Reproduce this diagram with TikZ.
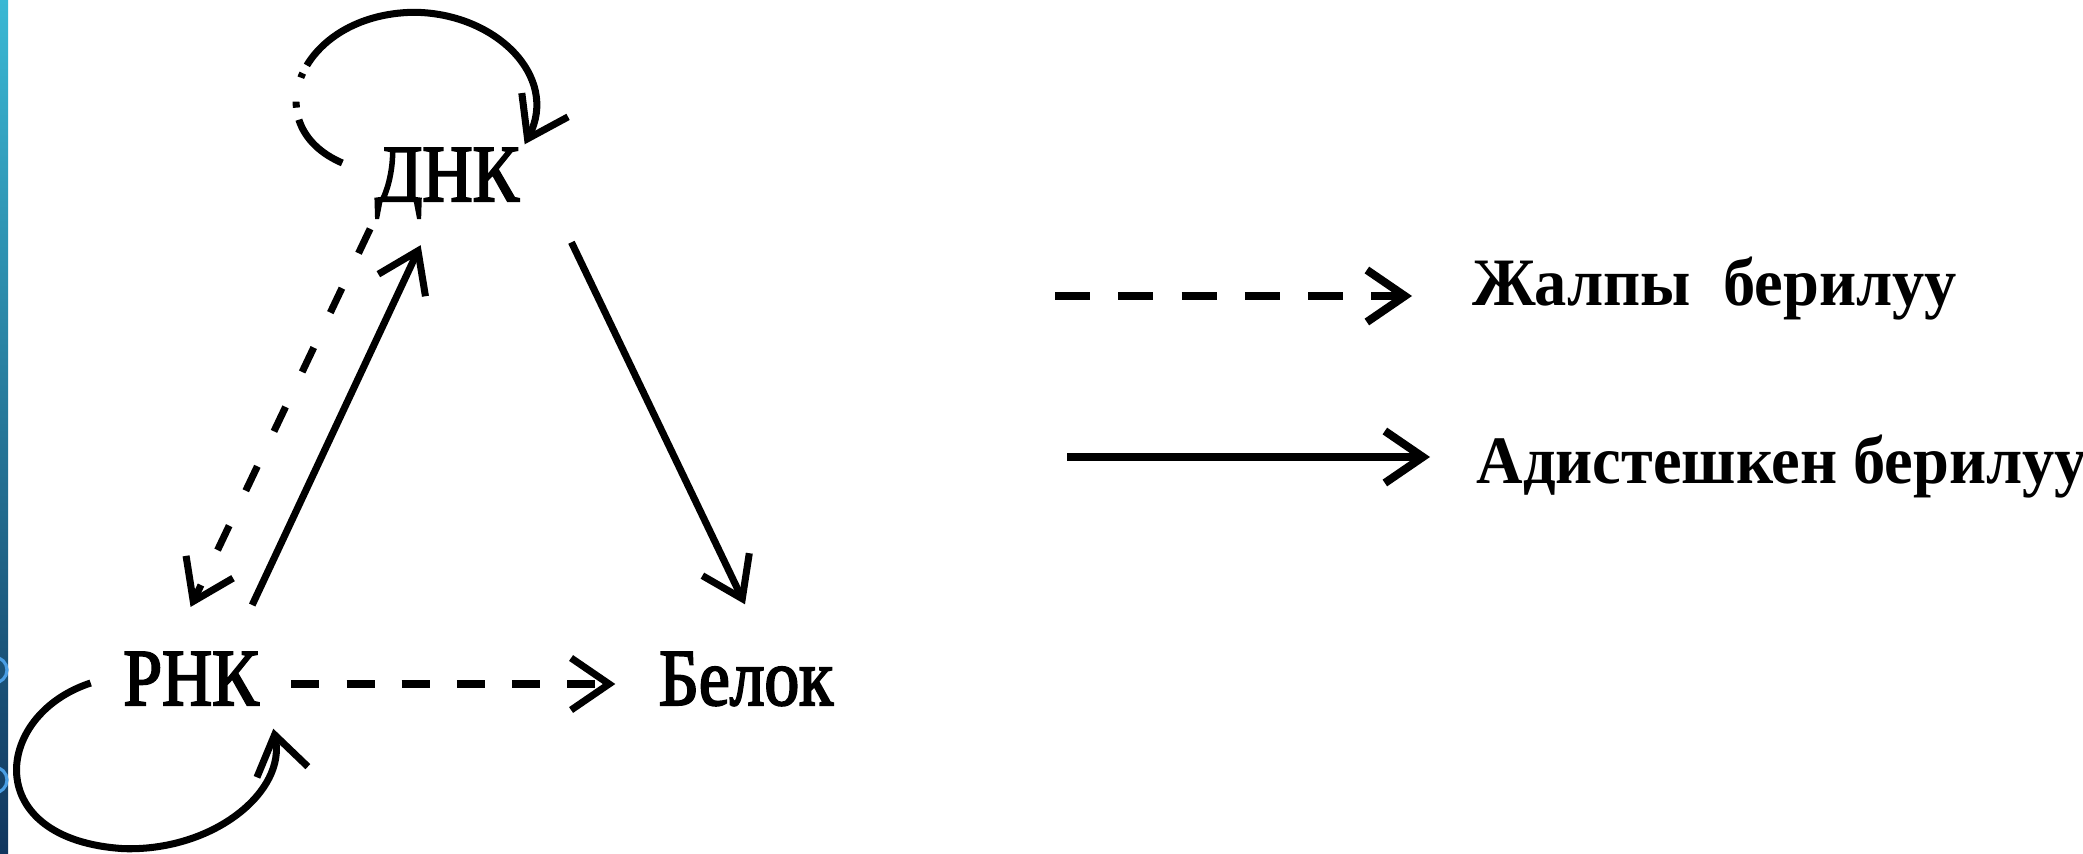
\documentclass[tikz,border=0pt]{standalone}
\usepackage{fontspec}
\setmainfont{Liberation Serif}
\newfontfamily\labelfont[FakeStretch=0.86,FakeBold=2.5]{Liberation Serif}
\newfontfamily\legendfont[FakeStretch=0.95]{Liberation Serif}
\usetikzlibrary{arrows.meta,calc}

\definecolor{barTop}{RGB}{58,184,212}
\definecolor{barBot}{RGB}{17,54,94}
\definecolor{ringBlue}{RGB}{74,158,228}

\tikzset{
  lbl/.style={font=\labelfont\fontsize{23}{26}\selectfont, inner sep=0pt,
    text height=5.4mm, text depth=0pt, anchor=base},
  legtext/.style={font=\legendfont\bfseries\fontsize{19.3}{22}\selectfont, inner sep=0pt,
    anchor=base west},
  barb/.style={-{Straight Barb[length=3.8mm,width=5.2mm]}},
  sol/.style={barb, line width=2pt},
  dsh/.style={sol, dash pattern=on 8pt off 7.7pt},
}

\begin{document}
\begin{tikzpicture}[x=0.1mm, y=-0.1mm]
  % frame of the slide
  \useasboundingbox (0,0) rectangle (2083,854);
  \shade[top color=barTop, bottom color=barBot] (0,0) rectangle (8,854);
  \foreach \y in {670,780} {
    \draw[ringBlue, line width=0.9pt] (-6,\y) circle (1.3mm);
  }

  % molecules
  \node[lbl] (dna) at (447,201) {ДНК};
  \node[lbl] (rna) at (191,705) {РНК};
  \node[lbl] (bel) at (746,705) {Белок};

  % DNA -> RNA (dashed) and RNA -> DNA (solid)
  \draw[dsh, dash pattern=on 7.7pt off 11pt, shorten <=3mm, shorten >=4.8mm]
    ($(dna.south)+(-64,0)$) -- ($(rna.north)+(-21,0)$);
  \draw[sol, shorten <=5mm, shorten >=4.8mm] ($(rna.north)+(40,0)$) -- ($(dna.south)+(-6,0)$);

  % DNA -> protein
  \draw[sol, shorten <=4.5mm, shorten >=5.1mm] ($(dna.south)+(105,0)$) -- ($(bel.north)+(21,0)$);

  % RNA -> protein
  \draw[dsh, shorten <=3.2mm, shorten >=4.3mm] ($(rna.east)+(0,6)$) -- ($(bel.west)+(0,6)$);

  % DNA -> DNA, left side of the loop is broken up
  \draw[sol, line cap=butt, dash pattern=on 18pt off 3.5pt on 1.7pt off 7pt on 1.4pt off 2.5pt on 300pt]
    ($(dna.west)+(-32,-11)$) .. controls +(-88,-38) and +(-113,2) .. ($(dna.north)+(-34,-134)$)
    .. controls +(82,0) and +(35,-68) .. ($(dna.north east)+(5,-2)$);

  % RNA -> RNA
  \draw[sol] ($(rna.west)+(-32,5)$) .. controls +(-98,32) and +(-145,-8) .. ($(rna.south)+(-66,143)$)
    .. controls +(90,2) and +(13,62) .. ($(rna.south east)+(14,23)$);

  % legend
  \node[legtext] (gen) at (1472,305) {Жалпы\ \ берилуу};
  \node[legtext] (spec) at (1476,483) {Адистешкен берилуу};
  \coordinate (gen-a) at (1055,296);
  \coordinate (spec-a) at (1067,457);
  \draw[dsh, line width=2.3pt, dash pattern=on 10pt off 8pt, shorten >=6mm] (gen-a) -- (gen-a -| gen.west);
  \draw[sol, line width=2.3pt, shorten >=4.6mm] (spec-a) -- (spec-a -| spec.west);
\end{tikzpicture}
\end{document}
